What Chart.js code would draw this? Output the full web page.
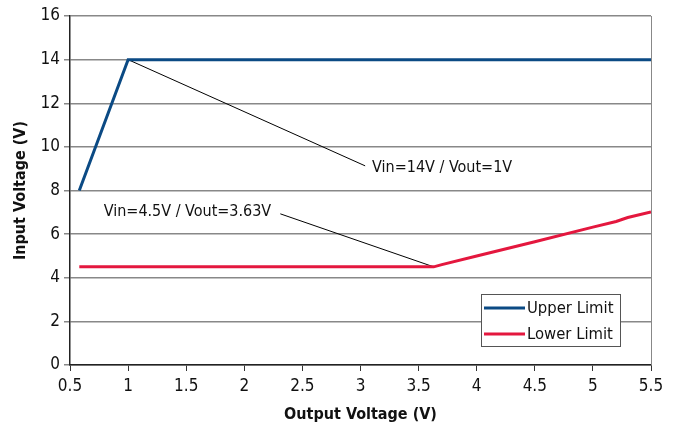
<!DOCTYPE html>
<html><head><meta charset="utf-8">
<script src="https://cdn.jsdelivr.net/npm/chart.js@4/dist/chart.umd.min.js"></script>
<style>html,body{margin:0;padding:0;background:#fff}#wrap{width:676px;height:428px}</style>
</head><body><div id="wrap"><canvas id="c" width="676" height="428"></canvas></div>
<script>
const FONT = "'DejaVu Sans Condensed','Liberation Sans',sans-serif";
const xTickValues = [0.5,1,1.5,2,2.5,3,3.5,4,4.5,5,5.5];
const upperX = [0.58, 1.0, 5.5];
const upperY = [8, 14, 14];
const lowerX = [0.58, 3.63, 3.7, 4.0, 4.5, 5.0, 5.2, 5.3, 5.5];
const lowerY = [4.5, 4.5, 4.6, 5.0, 5.65, 6.32, 6.58, 6.76, 7.02];
const leader1X = [1.0, 3.04];
const leader1Y = [14, 9.13];
const leader2X = [2.31, 3.63];
const leader2Y = [6.93, 4.5];
const noteTexts = ["Vin=14V / Vout=1V", "Vin=4.5V / Vout=3.63V"];
const noteX = [3.10, 0.79];
const noteY = [9.04, 7.02];
const seriesNames = ["Upper Limit", "Lower Limit"];
const BLUE = "#0b4a84", RED = "#e4173e";

const pts = (xs, ys) => xs.map((x, i) => ({x, y: ys[i]}));

const overlay = {
  id: 'overlay',
  afterDatasetsDraw(chart) {
    const {ctx, chartArea: a, scales: {x, y}} = chart;
    ctx.save();
    ctx.strokeStyle = "#888"; ctx.lineWidth = 1;
    ctx.beginPath(); ctx.moveTo(Math.round(a.right)+0.5, a.top); ctx.lineTo(Math.round(a.right)+0.5, a.bottom); ctx.stroke();
    ctx.fillStyle = "#111"; ctx.font = "16px " + FONT; ctx.textBaseline = "middle"; ctx.textAlign = "left";
    noteTexts.forEach((t, i) => ctx.fillText(t, x.getPixelForValue(noteX[i]), y.getPixelForValue(noteY[i])));
    const lx = 481, ly = 294, lw = 139, lh = 52;
    ctx.fillStyle = "#fff"; ctx.fillRect(lx, ly, lw, lh);
    ctx.strokeStyle = "#555"; ctx.lineWidth = 1; ctx.strokeRect(lx + 0.5, ly + 0.5, lw, lh);
    const cols = [BLUE, RED];
    seriesNames.forEach((n, i) => {
      const yy = ly + 14 + i * 26;
      ctx.strokeStyle = cols[i]; ctx.lineWidth = 3;
      ctx.beginPath(); ctx.moveTo(lx + 3, yy); ctx.lineTo(lx + 44, yy); ctx.stroke();
      ctx.fillStyle = "#111"; ctx.font = "16.5px " + FONT; ctx.textBaseline = "middle";
      ctx.fillText(n, lx + 46, yy + 1);
    });
    ctx.restore();
  }
};

new Chart(document.getElementById('c'), {
  type: 'line',
  data: {
    datasets: [
      {label: 'leader1', data: pts(leader1X, leader1Y), borderColor: '#000', borderWidth: 1, pointRadius: 0, order: 3},
      {label: 'leader2', data: pts(leader2X, leader2Y), borderColor: '#000', borderWidth: 1, pointRadius: 0, order: 3},
      {label: seriesNames[0], data: pts(upperX, upperY), borderColor: BLUE, borderWidth: 3, pointRadius: 0, order: 1},
      {label: seriesNames[1], data: pts(lowerX, lowerY), borderColor: RED, borderWidth: 3, pointRadius: 0, order: 2}
    ]
  },
  options: {
    responsive: false, animation: false, devicePixelRatio: 1,
    layout: {padding: {left: 11, right: 25, top: 16, bottom: 4}},
    plugins: {legend: {display: false}, tooltip: {enabled: false}},
    scales: {
      x: {
        type: 'linear', min: 0.5, max: 5.5,
        afterBuildTicks: s => { s.ticks = xTickValues.map(v => ({value: v})); },
        afterFit: s => { s.height = 59; },
        grid: {drawOnChartArea: false, drawTicks: true, tickLength: 6, color: '#333', tickColor: '#333'},
        border: {color: '#222', width: 1.5},
        ticks: {color: '#111', font: {family: FONT, size: 17}, padding: 5, maxRotation: 0, callback: v => String(v)},
        title: {display: true, text: 'Output Voltage (V)', color: '#111', font: {family: FONT, size: 16, weight: 'bold'}, padding: {top: 0, bottom: 0}}
      },
      y: {
        min: 0, max: 16,
        ticks: {stepSize: 2, color: '#111', font: {family: FONT, size: 17}, padding: 4},
        afterFit: s => { s.width = 59; },
        grid: {color: '#888', tickColor: '#888', tickLength: 6, lineWidth: 1.5},
        border: {color: '#222', width: 1.5},
        title: {display: true, text: 'Input Voltage (V)', color: '#111', font: {family: FONT, size: 16, weight: 'bold'}, padding: {top: 0, bottom: 4}}
      }
    }
  },
  plugins: [overlay]
});
</script></body></html>
